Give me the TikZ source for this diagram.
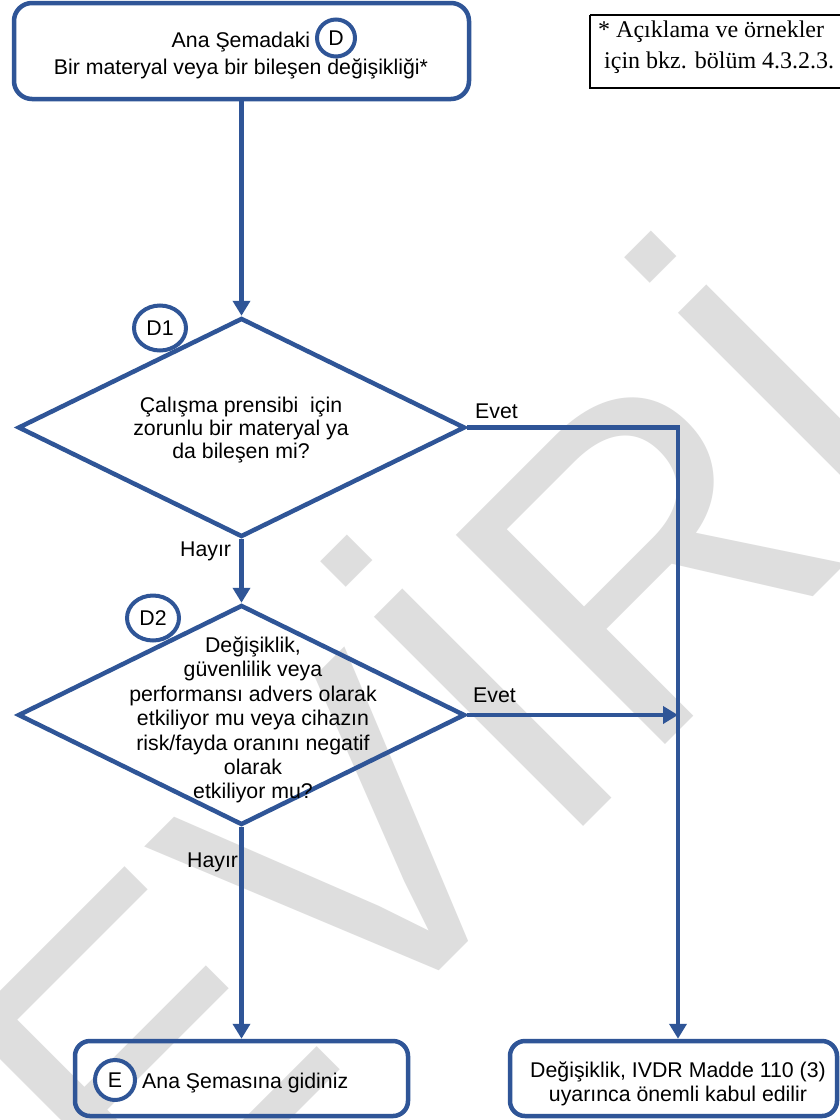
\documentclass[tikz,border=0pt]{standalone}
\usepackage{fontspec}
\setmainfont{Liberation Sans}
\newfontfamily\notefont{Liberation Serif}
\newfontfamily\wmfont{Liberation Sans}
\usetikzlibrary{shapes.geometric,arrows.meta,calc}
\definecolor{flowblue}{RGB}{47,85,151}
\definecolor{wmgray}{RGB}{222,222,222}
\begin{document}
\begin{tikzpicture}[x=1pt,y=-1pt,
  flowline/.style={draw=flowblue,line width=4.5pt},
  arr/.style={flowline,-{Triangle[length=15pt,width=17pt]}},
  dia/.style={diamond,draw=flowblue,line width=4.5pt,minimum width=447pt,minimum height=219pt,inner sep=0pt},
  rbox/.style={rectangle,rounded corners=18pt,draw=flowblue,line width=4.5pt,inner sep=0pt},
  lbl/.style={font=\fontsize{21.3}{24.4}\selectfont,inner sep=0pt},
  ring/.style={ellipse,draw=flowblue,fill=white,line width=4pt,inner sep=0pt,font=\fontsize{21.3}{24.4}\selectfont},
  note/.style={font=\notefont\fontsize{24}{30}\selectfont,inner sep=0pt,anchor=base west}
]
\useasboundingbox (0,0) rectangle (840,1120);
\clip (0,0) rectangle (840,1120);
\fill[white] (0,0) rectangle (840,1120);

% watermark
\node[rotate=45,anchor=base west,inner sep=0pt,text=wmgray,
      font=\wmfont\fontsize{430}{430}\selectfont] (wm) at (150,1260) {EVİRİ};

% footnote box
\draw[black,line width=1.2pt] (590,15) -- (850,15) (590,15) -- (590,88) -- (850,88);
\node[note] (n1) at (598,37) {* Açıklama ve örnekler};
\node[note] (n2) at (604,68) {için bkz. bölüm 4.3.2.3.};

% start box
\node[rbox,minimum width=455pt,minimum height=96pt] (top) at (241.5,51) {};
\node[lbl,anchor=base] (t1) at (241,47) {Ana Şemadaki};
\node[lbl,anchor=base] (t2) at (241,74) {Bir materyal veya bir bileşen değişikliği*};
\node[ring,minimum width=38pt,minimum height=37pt] (tagD) at (336,38) {D};

% decisions
\node[dia] (d1) at (241.5,427.5) {};
\node[lbl,align=center,font=\fontsize{21.3}{22.8}\selectfont] (q1) at (241,430)
  {Çalışma prensibi\ \ için\\zorunlu bir materyal ya\\da bileşen mi?};
\node[ring,minimum width=52pt,minimum height=45pt] (tag1) at (160,328) {D1};

\node[dia,minimum height=220pt] (d2) at (241.5,715) {};
\node[lbl,align=center] (q2) at (253,720)
  {Değişiklik,\\güvenlilik veya\\performansı advers olarak\\etkiliyor mu veya cihazın\\risk/fayda oranını negatif\\olarak\\etkiliyor mu?};
\node[ring,minimum width=52pt,minimum height=45pt] (tag2) at (153,618) {D2};

% end boxes
\node[rbox,rounded corners=15pt,minimum width=333pt,minimum height=75pt] (goE) at (241.5,1078.5) {};
\node[ring,minimum size=40pt] (tagE) at (115,1080) {E};
\node[lbl,anchor=base west] (goEtext) at (142,1088) {Ana Şemasına gidiniz};

\node[rbox,rounded corners=15pt,minimum width=327pt,minimum height=75pt] (res) at (673.5,1078.5) {};
\node[lbl,align=center] (restext) at (678,1084) {Değişiklik, IVDR Madde 110 (3)\\uyarınca önemli kabul edilir};

% connectors
\coordinate (j) at (678,427.5);
\draw[arr] (top.south) -- (d1.north);
\draw[arr] (d1.south) -- (d2.north);
\draw[arr] (d2.south) -- (goE.north);
\draw[arr] (d1.east) -- (j) -- (j |- res.north);
\draw[arr] (d2.east) -- (j |- d2.east);

% labels
\node[lbl,anchor=base west] (evet1) at (475,418) {Evet};
\node[lbl,anchor=base west] (evet2) at (473,702) {Evet};
\node[lbl,anchor=base west] (hayir1) at (180,556) {Hayır};
\node[lbl,anchor=base west] (hayir2) at (187,867) {Hayır};
\end{tikzpicture}
\end{document}
